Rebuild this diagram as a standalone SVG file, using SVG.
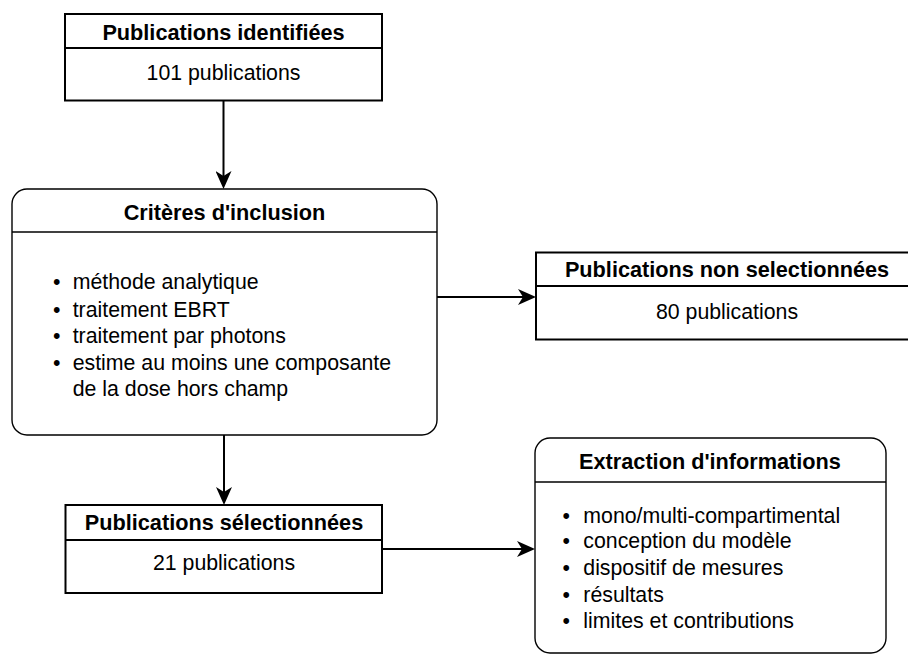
<svg xmlns="http://www.w3.org/2000/svg" width="908" height="655" viewBox="0 0 908 655">
<style>
  text { font-family: "Liberation Sans", Arial, sans-serif; fill: #000; }
  .t { font-weight: bold; font-size: 21.7px; text-anchor: middle; }
  .b { font-size: 21.3px; }
  .c { font-size: 21.3px; text-anchor: middle; }
  .box { fill: #fff; stroke: #000; stroke-width: 2; }
  .rbox { fill: #fff; stroke: #000; stroke-width: 1.4; }
  .div2 { stroke: #000; stroke-width: 2; }
  .div1 { stroke: #000; stroke-width: 1.4; }
  .edge { stroke: #000; stroke-width: 2; fill: none; }
</style>
<defs>
  <marker id="arr" viewBox="0 0 18 16" refX="5" refY="8" markerWidth="18" markerHeight="16" markerUnits="userSpaceOnUse" orient="auto">
    <path d="M0,0 L18,8 L0,16 L5,8 Z" fill="#000"/>
  </marker>
</defs>
<rect width="908" height="655" fill="#fff"/>

<g id="connectors">
  <line class="edge" x1="223.5" y1="100.5" x2="223.5" y2="176" marker-end="url(#arr)"/>
  <line class="edge" x1="437" y1="297" x2="523" y2="297" marker-end="url(#arr)"/>
  <line class="edge" x1="224" y1="435" x2="224" y2="492" marker-end="url(#arr)"/>
  <line class="edge" x1="382" y1="549" x2="522" y2="549" marker-end="url(#arr)"/>
</g>

<g id="identifiees">
  <rect class="box" x="65" y="14" width="317" height="86.5"/>
  <line class="div2" x1="65" y1="48" x2="382" y2="48"/>
  <text class="t" x="223.5" y="39.5">Publications identifiées</text>
  <text class="c" x="223.5" y="80">101 publications</text>
</g>

<g id="criteres">
  <rect class="rbox" x="12" y="189" width="425" height="246" rx="15" ry="15"/>
  <line class="div1" x1="12" y1="232" x2="437" y2="232"/>
  <text class="t" x="224.5" y="220">Critères d'inclusion</text>
  <text class="b">
    <tspan x="53" y="289.3">•</tspan><tspan x="72.7" y="289.3">méthode analytique</tspan>
    <tspan x="53" y="316.7">•</tspan><tspan x="72.7" y="316.7">traitement EBRT</tspan>
    <tspan x="53" y="343.3">•</tspan><tspan x="72.7" y="343.3">traitement par photons</tspan>
    <tspan x="53" y="369.5">•</tspan><tspan x="72.7" y="369.5">estime au moins une composante</tspan>
    <tspan x="72.7" y="396">de la dose hors champ</tspan>
  </text>
</g>

<g id="non-selectionnees">
  <rect class="box" x="536" y="252.5" width="382" height="87"/>
  <line class="div2" x1="536" y1="286" x2="918" y2="286"/>
  <text class="t" x="727" y="277">Publications non selectionnées</text>
  <text class="c" x="727" y="318.5">80 publications</text>
</g>

<g id="selectionnees">
  <rect class="box" x="65.5" y="505" width="316.5" height="88"/>
  <line class="div2" x1="65.5" y1="540" x2="382" y2="540"/>
  <text class="t" x="224" y="530">Publications sélectionnées</text>
  <text class="c" x="224" y="570">21 publications</text>
</g>

<g id="extraction">
  <rect class="rbox" x="535" y="438" width="351" height="215" rx="15" ry="15"/>
  <line class="div1" x1="535" y1="482" x2="886" y2="482"/>
  <text class="t" x="710" y="469.3">Extraction d'informations</text>
  <text class="b">
    <tspan x="562.5" y="522.7">•</tspan><tspan x="583.3" y="522.7">mono/multi-compartimental</tspan>
    <tspan x="562.5" y="548.3">•</tspan><tspan x="583.3" y="548.3">conception du modèle</tspan>
    <tspan x="562.5" y="575">•</tspan><tspan x="583.3" y="575">dispositif de mesures</tspan>
    <tspan x="562.5" y="601.7">•</tspan><tspan x="583.3" y="601.7">résultats</tspan>
    <tspan x="562.5" y="628.3">•</tspan><tspan x="583.3" y="628.3">limites et contributions</tspan>
  </text>
</g>
</svg>
